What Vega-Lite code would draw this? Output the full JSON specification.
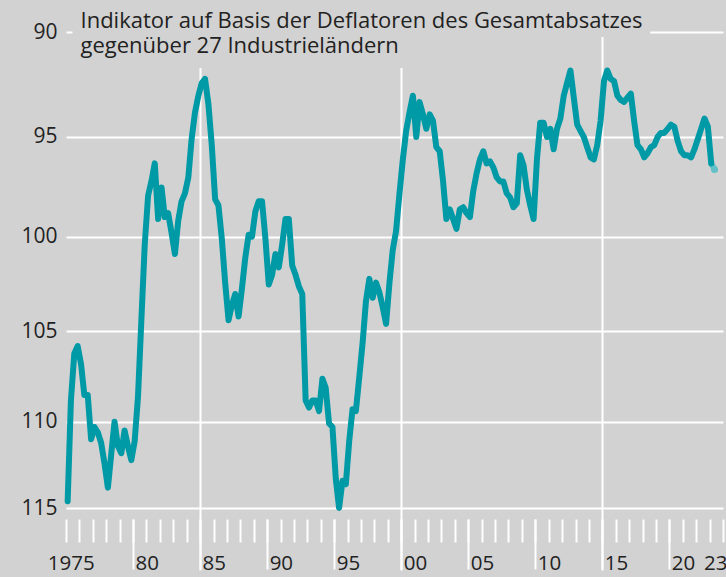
{
"$schema": "https://vega.github.io/schema/vega-lite/v6.json",
"width": 657, "height": 476,
"autosize": {"type": "none"},
"padding": {"left": 66, "top": 32, "right": 3, "bottom": 69},
"background": "#d2d2d2",
"config": {"view": {"stroke": null}, "font": "Open Sans"},
"title": {"text": ["Indikator auf Basis der Deflatoren des Gesamtabsatzes", "gegenüber 27 Industrieländern"], "orient": "top", "anchor": "start", "frame": "group", "offset": -54, "dx": 14.5, "baseline": "alphabetic", "fontSize": 22, "font": "Open Sans", "fontWeight": "normal", "color": "#222222", "lineHeight": 25},
"data": {"values": [
{"date":"1975-02-15","value":114.6},{"date":"1975-05-15","value":108.8},{"date":"1975-08-15","value":106.2},{"date":"1975-11-15","value":105.8},
{"date":"1976-02-15","value":106.8},{"date":"1976-05-15","value":108.5},{"date":"1976-08-15","value":108.5},{"date":"1976-11-15","value":111.0},
{"date":"1977-02-15","value":110.3},{"date":"1977-05-15","value":110.6},{"date":"1977-08-15","value":111.2},{"date":"1977-11-15","value":112.4},
{"date":"1978-02-15","value":113.8},{"date":"1978-05-15","value":111.9},{"date":"1978-08-15","value":110.0},{"date":"1978-11-15","value":111.4},
{"date":"1979-02-15","value":111.8},{"date":"1979-05-15","value":110.5},{"date":"1979-08-15","value":111.4},{"date":"1979-11-15","value":112.2},
{"date":"1980-02-15","value":111.1},{"date":"1980-05-15","value":108.6},{"date":"1980-08-15","value":104.4},{"date":"1980-11-15","value":100.4},
{"date":"1981-02-15","value":97.9},{"date":"1981-05-15","value":97.2},{"date":"1981-08-15","value":96.3},{"date":"1981-11-15","value":99.1},
{"date":"1982-02-15","value":97.5},{"date":"1982-05-15","value":99.0},{"date":"1982-08-15","value":98.8},{"date":"1982-11-15","value":99.8},
{"date":"1983-02-15","value":100.9},{"date":"1983-05-15","value":99.2},{"date":"1983-08-15","value":98.2},{"date":"1983-11-15","value":97.8},
{"date":"1984-02-15","value":97.0},{"date":"1984-05-15","value":95.1},{"date":"1984-08-15","value":93.8},{"date":"1984-11-15","value":93.0},
{"date":"1985-02-15","value":92.4},{"date":"1985-05-15","value":92.2},{"date":"1985-08-15","value":93.4},{"date":"1985-11-15","value":95.4},
{"date":"1986-02-15","value":98.1},{"date":"1986-05-15","value":98.4},{"date":"1986-08-15","value":100.1},{"date":"1986-11-15","value":102.4},
{"date":"1987-02-15","value":104.4},{"date":"1987-05-15","value":103.6},{"date":"1987-08-15","value":103.0},{"date":"1987-11-15","value":104.2},
{"date":"1988-02-15","value":102.7},{"date":"1988-05-15","value":101.1},{"date":"1988-08-15","value":99.9},{"date":"1988-11-15","value":100.0},
{"date":"1989-02-15","value":98.7},{"date":"1989-05-15","value":98.2},{"date":"1989-08-15","value":98.2},{"date":"1989-11-15","value":100.1},
{"date":"1990-02-15","value":102.5},{"date":"1990-05-15","value":102.0},{"date":"1990-08-15","value":100.9},{"date":"1990-11-15","value":101.6},
{"date":"1991-02-15","value":100.4},{"date":"1991-05-15","value":99.1},{"date":"1991-08-15","value":99.1},{"date":"1991-11-15","value":101.5},
{"date":"1992-02-15","value":102.0},{"date":"1992-05-15","value":102.6},{"date":"1992-08-15","value":103.0},{"date":"1992-11-15","value":108.8},
{"date":"1993-02-15","value":109.2},{"date":"1993-05-15","value":108.8},{"date":"1993-08-15","value":108.8},{"date":"1993-11-15","value":109.4},
{"date":"1994-02-15","value":107.6},{"date":"1994-05-15","value":108.1},{"date":"1994-08-15","value":110.1},{"date":"1994-11-15","value":110.3},
{"date":"1995-02-15","value":113.3},{"date":"1995-05-15","value":115.0},{"date":"1995-08-15","value":113.4},{"date":"1995-11-15","value":113.6},
{"date":"1996-02-15","value":111.1},{"date":"1996-05-15","value":109.3},{"date":"1996-08-15","value":109.4},{"date":"1996-11-15","value":107.5},
{"date":"1997-02-15","value":105.6},{"date":"1997-05-15","value":103.4},{"date":"1997-08-15","value":102.2},{"date":"1997-11-15","value":103.2},
{"date":"1998-02-15","value":102.4},{"date":"1998-05-15","value":102.9},{"date":"1998-08-15","value":103.7},{"date":"1998-11-15","value":104.6},
{"date":"1999-02-15","value":102.4},{"date":"1999-05-15","value":100.7},{"date":"1999-08-15","value":99.7},{"date":"1999-11-15","value":97.8},
{"date":"2000-02-15","value":96.1},{"date":"2000-05-15","value":94.7},{"date":"2000-08-15","value":93.8},{"date":"2000-11-15","value":93.0},
{"date":"2001-02-15","value":95.0},{"date":"2001-05-15","value":93.3},{"date":"2001-08-15","value":93.9},{"date":"2001-11-15","value":94.6},
{"date":"2002-02-15","value":93.9},{"date":"2002-05-15","value":94.2},{"date":"2002-08-15","value":95.5},{"date":"2002-11-15","value":95.7},
{"date":"2003-02-15","value":97.2},{"date":"2003-05-15","value":99.1},{"date":"2003-08-15","value":98.6},{"date":"2003-11-15","value":99.1},
{"date":"2004-02-15","value":99.6},{"date":"2004-05-15","value":98.6},{"date":"2004-08-15","value":98.5},{"date":"2004-11-15","value":98.8},
{"date":"2005-02-15","value":99.0},{"date":"2005-05-15","value":97.7},{"date":"2005-08-15","value":96.8},{"date":"2005-11-15","value":96.1},
{"date":"2006-02-15","value":95.7},{"date":"2006-05-15","value":96.3},{"date":"2006-08-15","value":96.2},{"date":"2006-11-15","value":96.5},
{"date":"2007-02-15","value":97.0},{"date":"2007-05-15","value":97.2},{"date":"2007-08-15","value":97.2},{"date":"2007-11-15","value":97.8},
{"date":"2008-02-15","value":98.0},{"date":"2008-05-15","value":98.5},{"date":"2008-08-15","value":98.3},{"date":"2008-11-15","value":95.9},
{"date":"2009-02-15","value":96.4},{"date":"2009-05-15","value":97.6},{"date":"2009-08-15","value":98.4},{"date":"2009-11-15","value":99.1},
{"date":"2010-02-15","value":96.1},{"date":"2010-05-15","value":94.3},{"date":"2010-08-15","value":94.3},{"date":"2010-11-15","value":95.0},
{"date":"2011-02-15","value":94.6},{"date":"2011-05-15","value":95.6},{"date":"2011-08-15","value":94.6},{"date":"2011-11-15","value":94.1},
{"date":"2012-02-15","value":93.0},{"date":"2012-05-15","value":92.4},{"date":"2012-08-15","value":91.8},{"date":"2012-11-15","value":93.1},
{"date":"2013-02-15","value":94.4},{"date":"2013-05-15","value":94.7},{"date":"2013-08-15","value":95.0},{"date":"2013-11-15","value":95.5},
{"date":"2014-02-15","value":96.0},{"date":"2014-05-15","value":96.1},{"date":"2014-08-15","value":95.4},{"date":"2014-11-15","value":94.2},
{"date":"2015-02-15","value":92.3},{"date":"2015-05-15","value":91.8},{"date":"2015-08-15","value":92.2},{"date":"2015-11-15","value":92.3},
{"date":"2016-02-15","value":93.0},{"date":"2016-05-15","value":93.2},{"date":"2016-08-15","value":93.3},{"date":"2016-11-15","value":93.1},
{"date":"2017-02-15","value":92.9},{"date":"2017-05-15","value":94.2},{"date":"2017-08-15","value":95.4},{"date":"2017-11-15","value":95.6},
{"date":"2018-02-15","value":96.0},{"date":"2018-05-15","value":95.8},{"date":"2018-08-15","value":95.5},{"date":"2018-11-15","value":95.4},
{"date":"2019-02-15","value":95.0},{"date":"2019-05-15","value":94.8},{"date":"2019-08-15","value":94.8},{"date":"2019-11-15","value":94.6},
{"date":"2020-02-15","value":94.4},{"date":"2020-05-15","value":94.5},{"date":"2020-08-15","value":95.2},{"date":"2020-11-15","value":95.7},
{"date":"2021-02-15","value":95.9},{"date":"2021-05-15","value":95.9},{"date":"2021-08-15","value":96.0},{"date":"2021-11-15","value":95.6},
{"date":"2022-02-15","value":95.1},{"date":"2022-05-15","value":94.6},{"date":"2022-08-15","value":94.1},{"date":"2022-11-15","value":94.5},
{"date":"2023-02-15","value":96.3},{"date":"2023-05-15","value":96.6,"est":true}
]},
"resolve": {"axis": {"x": "independent"}},
"layer": [
{"data": {"values": [{}]},
 "mark": {"type": "rect", "color": "#d2d2d2"},
 "encoding": {
  "x": {"datum": {"year": 1975, "month": 6, "date": 27, "utc": true}, "type": "temporal", "axis": null, "scale": {"type": "utc", "domain": [{"year": 1975, "month": 1, "date": 1, "utc": true}, {"year": 2024, "month": 1, "date": 1, "utc": true}]}},
  "x2": {"datum": {"year": 2018, "month": 7, "date": 30, "utc": true}},
  "y": {"datum": 89.7, "type": "quantitative", "scale": {"type": "log", "domain": [90, 115], "reverse": true, "nice": false, "zero": false}, "axis": {"values": [90, 95, 100, 105, 110, 115], "title": null, "format": "d", "grid": true, "gridColor": "#ffffff", "gridWidth": 2, "ticks": false, "domain": false, "labelFontSize": 21, "labelColor": "#222222", "labelPadding": 9, "labelFlush": false, "labelOverlap": false}},
  "y2": {"datum": 90.23}
 }},
{"data": {"values": [{}]},
 "mark": {"type": "rect", "color": "#d2d2d2"},
 "encoding": {
  "x": {"datum": {"year": 1975, "month": 6, "date": 27, "utc": true}, "type": "temporal", "axis": null},
  "x2": {"datum": {"year": 2000, "month": 4, "date": 12, "utc": true}},
  "y": {"datum": 90.2, "type": "quantitative"},
  "y2": {"datum": 91.68}
 }},
{"transform": [{"filter": "utcyear(datum.date) == 2023"}],
 "mark": {"type": "line", "color": "#62c1c7", "strokeWidth": 6, "strokeCap": "round", "strokeJoin": "round"},
 "encoding": {
  "x": {"field": "date", "type": "temporal", "axis": {"orient": "bottom", "title": null, "grid": false, "domain": false, "offset": 11,
    "values": [{"year": 1975, "month": 3, "date": 15, "utc": true}, {"year": 1980, "utc": true}, {"year": 1985, "utc": true}, {"year": 1990, "utc": true}, {"year": 1995, "utc": true}, {"year": 2000, "utc": true}, {"year": 2005, "utc": true}, {"year": 2010, "utc": true}, {"year": 2015, "utc": true}, {"year": 2020, "utc": true}, {"year": 2023, "month": 4, "date": 10, "utc": true}],
    "tickSize": 50, "tickWidth": 2, "tickColor": "#ffffff",
    "tickOpacity": {"condition": {"test": "utcyear(datum.value) == 1975 || utcyear(datum.value) == 2023", "value": 0}, "value": 1},
    "labelExpr": "utcyear(datum.value) == 1975 ? '1975' : utcFormat(datum.value, '%y')",
    "labelAlign": {"condition": {"test": "utcyear(datum.value) == 1975 || utcyear(datum.value) == 2023", "value": "center"}, "value": "left"},
    "labelBaseline": "alphabetic", "labelPadding": 0, "labelOffset": 2, "labelFontSize": 20.5, "labelColor": "#222222", "labelFlush": false, "labelOverlap": false, "labelBound": false}},
  "y": {"field": "value", "type": "quantitative"}
 }},
{"transform": [{"filter": "!datum.est"}],
 "mark": {"type": "line", "color": "#009aa6", "strokeWidth": 6, "strokeCap": "round", "strokeJoin": "round"},
 "encoding": {
  "x": {"field": "date", "type": "temporal", "axis": {"orient": "bottom", "title": null, "grid": false, "domain": false, "labels": false, "offset": 11, "tickCount": {"interval": "year", "step": 1}, "tickSize": 23, "tickWidth": 2, "tickColor": "#ffffff"}},
  "y": {"field": "value", "type": "quantitative"}
 }},
{"transform": [{"filter": "datum.est"}],
 "mark": {"type": "point", "filled": true, "color": "#62c1c7", "size": 50, "opacity": 1},
 "encoding": {
  "x": {"field": "date", "type": "temporal", "axis": {"orient": "bottom", "title": null, "domain": false, "labels": false, "offset": 0,
    "values": [{"year": 1985, "utc": true}, {"year": 2000, "utc": true}, {"year": 2015, "utc": true}],
    "grid": true, "gridColor": "#ffffff", "gridWidth": 2, "gridOpacity": 1, "tickSize": 62, "tickWidth": 2, "tickColor": "#ffffff"}},
  "y": {"field": "value", "type": "quantitative"}
 }}
]
}
